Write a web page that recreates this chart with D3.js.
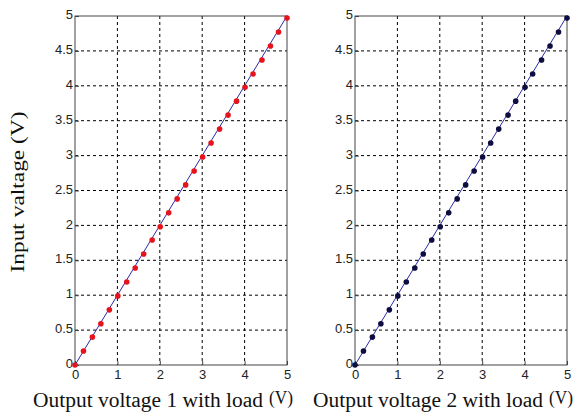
<!DOCTYPE html>
<html>
<head>
  <meta charset="utf-8">
  <script src="https://d3js.org/d3.v7.min.js"></script>
  <style>
    html, body { margin: 0; padding: 0; background: #fff; }
    .tick text { font-family: "Liberation Sans", Arial, sans-serif; font-size: 13px; fill: #222; }
    .grid line { stroke: #000; stroke-width: 1; stroke-dasharray: 3 3; }
    .lbl { font-family: "Liberation Serif", "Times New Roman", serif; fill: #111; }
  </style>
</head>
<body>
<script>
  // measured input voltage (y) and output voltages (x)
  var inputV = [0, 0.2, 0.4, 0.59, 0.79, 0.99, 1.19, 1.39, 1.59, 1.79, 1.98, 2.18, 2.38,
                2.58, 2.78, 2.98, 3.18, 3.38, 3.58, 3.78, 3.98, 4.17, 4.37, 4.57, 4.77, 4.97];
  var output1 = [0, 0.2, 0.41, 0.61, 0.81, 1.01, 1.22, 1.42, 1.62, 1.82, 2.01, 2.21, 2.41,
                 2.61, 2.81, 3.01, 3.21, 3.41, 3.61, 3.81, 4.01, 4.2, 4.41, 4.61, 4.8, 5.0];
  var output2 = [0, 0.2, 0.41, 0.61, 0.81, 1.01, 1.21, 1.41, 1.61, 1.81, 2.01, 2.21, 2.41,
                 2.61, 2.81, 3.01, 3.2, 3.39, 3.61, 3.79, 4.01, 4.19, 4.4, 4.6, 4.8, 5.0];
  var fitLine = [0, 5];
  var xTicks = [0, 1, 2, 3, 4, 5];
  var yTicks = [0, 0.5, 1, 1.5, 2, 2.5, 3, 3.5, 4, 4.5, 5];

  var svg = d3.select("body").append("svg")
    .attr("width", 579)
    .attr("height", 417);

  var panels = [
    { left: 75, xs: output1, color: "#e5141c", label: "Output voltage 1 with load" },
    { left: 355, xs: output2, color: "#0d0d40", label: "Output voltage 2 with load" }
  ];

  var plotTop = 16, plotBottom = 365, plotW = 212;

  panels.forEach(function (p) {
    var x = d3.scaleLinear().domain([0, 5]).range([p.left, p.left + plotW]);
    var y = d3.scaleLinear().domain([0, 5]).range([plotBottom, plotTop]);
    var g = svg.append("g");

    // grid
    var grid = g.append("g").attr("class", "grid");
    grid.selectAll(".gx").data(xTicks.slice(1, -1)).enter().append("line")
      .attr("x1", function (d) { return x(d); }).attr("x2", function (d) { return x(d); })
      .attr("y1", plotTop).attr("y2", plotBottom);
    grid.selectAll(".gy").data(yTicks.slice(1, -1)).enter().append("line")
      .attr("y1", function (d) { return y(d); }).attr("y2", function (d) { return y(d); })
      .attr("x1", p.left).attr("x2", p.left + plotW);

    // axes
    var xa = g.append("g").attr("transform", "translate(0," + plotBottom + ")")
      .call(d3.axisBottom(x).tickValues(xTicks).tickSize(-4).tickPadding(5).tickFormat(d3.format("")));
    var ya = g.append("g").attr("transform", "translate(" + p.left + ",0)")
      .call(d3.axisLeft(y).tickValues(yTicks).tickSize(-4).tickPadding(2).tickFormat(d3.format("")));
    [xa, ya].forEach(function (a) {
      a.select(".domain").remove();
      a.selectAll(".tick line").attr("stroke", "#444");
    });
    ya.selectAll(".tick text").attr("dy", "0.2em");

    g.append("rect")
      .attr("x", p.left).attr("y", plotTop).attr("width", plotW).attr("height", plotBottom - plotTop)
      .attr("fill", "none").attr("stroke", "#444").attr("stroke-width", 1);

    // y = x reference line
    g.append("path")
      .attr("d", d3.line().x(function (d) { return x(d); }).y(function (d) { return y(d); })(fitLine))
      .attr("stroke", "#2a2aa8").attr("stroke-width", 1).attr("fill", "none");

    g.selectAll("circle").data(inputV).enter().append("circle")
      .attr("cx", function (d, i) { return x(p.xs[i]); })
      .attr("cy", function (d) { return y(d); })
      .attr("r", 2.8)
      .attr("fill", p.color);

    // x label, "(V)" slightly raised
    g.append("text").attr("class", "lbl")
      .attr("x", p.left - 42).attr("y", 407)
      .attr("textLength", 230).attr("lengthAdjust", "spacingAndGlyphs")
      .style("font-size", "20px")
      .text(p.label);
    g.append("text").attr("class", "lbl")
      .attr("x", p.left + 194).attr("y", 404)
      .attr("textLength", 24).attr("lengthAdjust", "spacingAndGlyphs")
      .style("font-size", "19px")
      .text("(V)");
  });

  svg.append("text").attr("class", "lbl")
    .attr("transform", "translate(24,192) rotate(-90)")
    .attr("text-anchor", "middle")
    .attr("textLength", 161).attr("lengthAdjust", "spacingAndGlyphs")
    .style("font-size", "18px")
    .text("Input valtage (V)");
</script>
</body>
</html>
